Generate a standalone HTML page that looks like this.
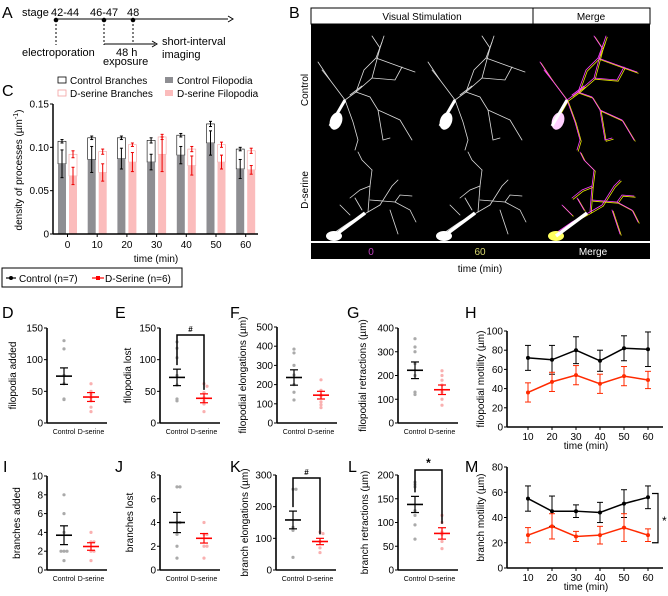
<!DOCTYPE html>
<html><head><meta charset="utf-8"><style>
html,body{margin:0;padding:0;background:#fff;}
svg{display:block;font-family:"Liberation Sans",Arial,sans-serif;}
</style></head><body>
<svg id="fig" width="668" height="596" viewBox="0 0 668 596" xmlns="http://www.w3.org/2000/svg">
<g font-size="11">
<text x="2" y="18" font-size="16">A</text>
<text x="22" y="16">stage</text>
<text x="51" y="16">42-44</text>
<text x="90" y="16">46-47</text>
<text x="127" y="16">48</text>
<line x1="56" y1="19" x2="228" y2="19" stroke="#000" stroke-width="1"/>
<path d="M228,16 L233,19 L228,22" fill="none" stroke="#000"/>
<circle cx="56" cy="20" r="2.3" fill="#000"/><circle cx="104" cy="20" r="2.3" fill="#000"/><circle cx="133" cy="20" r="2.3" fill="#000"/>
<line x1="56" y1="20" x2="56" y2="45" stroke="#000" stroke-dasharray="2,2"/>
<line x1="104" y1="20" x2="104" y2="45" stroke="#000" stroke-dasharray="2,2"/>
<line x1="133" y1="20" x2="133" y2="44" stroke="#000" stroke-dasharray="2,2"/>
<line x1="104" y1="44" x2="155" y2="44" stroke="#000"/>
<path d="M152,41 L157,44 L152,47" fill="none" stroke="#000"/>
<text x="22" y="56">electroporation</text>
<text x="116" y="56">48 h</text>
<text x="103" y="65">exposure</text>
<text x="162" y="45">short-interval</text>
<text x="162" y="58">imaging</text>
</g>
<g>
<text x="289" y="18" font-size="16">B</text>
<rect x="311" y="8" width="339" height="16" fill="#fff" stroke="#000"/>
<line x1="533" y1="8" x2="533" y2="24" stroke="#000"/>
<text x="422" y="20" font-size="10" text-anchor="middle">Visual Stimulation</text>
<text x="591" y="20" font-size="10" text-anchor="middle">Merge</text>
<rect x="311" y="24" width="339" height="217" fill="#000"/>
<g id="neurons"></g>
<rect x="311" y="243" width="339" height="16" fill="#000"/>
<text x="371" y="255" font-size="10" fill="#c040c0" text-anchor="middle">0</text>
<text x="480" y="255" font-size="10" fill="#d8d870" text-anchor="middle">60</text>
<text x="593" y="255" font-size="10" fill="#fff" text-anchor="middle">Merge</text>
<text x="480" y="272" font-size="10" text-anchor="middle">time (min)</text>
<text transform="translate(308,90) rotate(-90)" font-size="10" text-anchor="middle">Control</text>
<text transform="translate(308,190) rotate(-90)" font-size="10" text-anchor="middle">D-serine</text>
</g>
<g id="charts"></g>
</svg>
<script>
const cTimes = [0,10,20,30,40,50,60];
const cCtrlBranchTotal = [0.107,0.111,0.111,0.108,0.114,0.127,0.098];
const cCtrlBranchErr = [0.002,0.002,0.002,0.003,0.002,0.003,0.002];
const cCtrlFilo = [0.081,0.086,0.087,0.083,0.091,0.105,0.075];
const cCtrlFiloErr = [0.016,0.015,0.012,0.009,0.010,0.014,0.011];
const cDserBranchTotal = [0.092,0.095,0.103,0.112,0.098,0.103,0.096];
const cDserBranchErr = [0.004,0.003,0.002,0.003,0.003,0.003,0.003];
const cDserFilo = [0.067,0.071,0.083,0.092,0.079,0.083,0.074];
const cDserFiloErr = [0.010,0.010,0.011,0.020,0.011,0.008,0.005];
const cYTicks = [0,0.05,0.10,0.15];
const cYTickLabels = ["0","0.05","0.10","0.15"];
const dCtrl = [130,117,75,62,38,37]; const dDser = [62,50,45,40,35,25,18];
const dMean = [74,41]; const dErr = [13,7];
const eCtrl = [128,118,103,75,60,38,35]; const eDser = [62,58,48,40,35,30,18];
const eMean = [72,39]; const eErr = [13,7];
const fCtrl = [385,365,300,250,200,160,120]; const fDser = [225,170,145,140,110,95,80];
const fMean = [237,145]; const fErr = [40,20];
const gCtrl = [355,320,300,250,200,130,120]; const gDser = [220,200,180,160,130,100,75];
const gMean = [222,140]; const gErr = [35,20];
const iCtrl = [8,6,2,2,2,1,4]; const iDser = [4,3,3,2,2,1];
const iMean = [3.7,2.5]; const iErr = [1.0,0.4];
const jCtrl = [7,7,4,4,3,2,1]; const jDser = [4,3,3,2,2,1];
const jMean = [4,2.67]; const jErr = [0.85,0.4];
const kCtrl = [255,255,135,125,40]; const kDser = [120,115,90,70,55];
const kMean = [158,90]; const kErr = [28,10];
const lCtrl = [185,180,175,125,115,95,65]; const lDser = [115,100,80,75,60,45];
const lMean = [138,77]; const lErr = [17,12];
const lineTimes = [10,20,30,40,50,60];
const hCtrl = [72,70,80,69,82,81]; const hCtrlErr = [13,15,14,11,13,18];
const hDser = [36,47,54,45,53,49]; const hDserErr = [10,10,10,10,10,9];
const mCtrl = [55,45,45,44,51,56]; const mCtrlErr = [10,12,5,8,11,9];
const mDser = [26,33,25,26,32,26]; const mDserErr = [6,10,4,7,11,5];

const NS="http://www.w3.org/2000/svg";
const root=document.getElementById('charts');
function mk(tag,attrs,parent,text){const e=document.createElementNS(NS,tag);for(const k in attrs)e.setAttribute(k,attrs[k]);if(text!==undefined)e.textContent=text;(parent||root).appendChild(e);return e;}
function line(p,x1,y1,x2,y2,c,w){return mk('line',{x1,y1,x2,y2,stroke:c||'#000','stroke-width':w||1},p);}

(function(){
  const g=mk('g',{});
  
  
  const x0=53,yb=234,yt=104,ymax=0.15;
  const y=v=>yb-(v/ymax)*(yb-yt);
  const gx=t=>67.5+t*2.97;
  const lbl=mk('text',{x:2,y:96,'font-size':16},g,'C');
  
  
  cTimes.forEach((t,i)=>{
    const cx=gx(t);
    const b1=mk('rect',{x:cx-9.5,y:y(cCtrlBranchTotal[i]),width:8,height:y(cCtrlFilo[i])-y(cCtrlBranchTotal[i]),fill:'#fff',stroke:'#000','stroke-width':0.6},g);
    
    
    const b2=mk('rect',{x:cx-9.5,y:y(cCtrlFilo[i]),width:8,height:yb-y(cCtrlFilo[i]),fill:'#8e8e92'},g);
    
    
    const b3=mk('rect',{x:cx+1.5,y:y(cDserBranchTotal[i]),width:8,height:y(cDserFilo[i])-y(cDserBranchTotal[i]),fill:'#fff',stroke:'#f4a0a0','stroke-width':0.6},g);
    
    
    const b4=mk('rect',{x:cx+1.5,y:y(cDserFilo[i]),width:8,height:yb-y(cDserFilo[i]),fill:'#fbbcbc'},g);
    
    
    const eb=(xx,v,e,c)=>{line(g,xx,y(v-e),xx,y(v+e),c,1);line(g,xx-1.5,y(v-e),xx+1.5,y(v-e),c,1);line(g,xx-1.5,y(v+e),xx+1.5,y(v+e),c,1);};
    eb(cx-5.5,cCtrlBranchTotal[i],cCtrlBranchErr[i],'#000');
    eb(cx-5.5,cCtrlFilo[i],cCtrlFiloErr[i],'#000');
    eb(cx+5.5,cDserBranchTotal[i],cDserBranchErr[i],'#e00');
    eb(cx+5.5,cDserFilo[i],cDserFiloErr[i],'#e00');
    line(g,cx,yb,cx,yb+3);
    const tl=mk('text',{x:cx,y:yb+14,'font-size':10,'text-anchor':'middle'},g,String(t));
    
    
  });
  line(g,x0,yt,x0,yb,'#000',1.5);
  line(g,x0,yb,258,yb,'#000',1.5);
  cYTicks.forEach((v,i)=>{line(g,x0-3,y(v),x0,y(v));
    const t=mk('text',{x:x0-4,y:y(v)+3.5,'font-size':10,'text-anchor':'end'},g,cYTickLabels[i]);
    
    });
  const xt=mk('text',{x:156,y:262,'font-size':10,'text-anchor':'middle'},g,'time (min)');
  
  
  const yt2=mk('text',{transform:'translate(22,170) rotate(-90)','font-size':10,'text-anchor':'middle'},g,'density of processes (µm');
  
  
  mk('tspan',{'font-size':7,dy:-4},yt2,'-1');
  mk('tspan',{dy:4},yt2,')');
  const leg=[[58,84,'#fff','#000','Control Branches'],[58,97,'#fff','#f4a0a0','D-serine Branches'],[165,84,'#8e8e92','none','Control Filopodia'],[165,97,'#fbbcbc','none','D-serine Filopodia']];
  leg.forEach(l=>{const r=mk('rect',{x:l[0],y:l[1]-7,width:8,height:6,fill:l[2],stroke:l[3],'stroke-width':0.8},g);
    
    
    const t=mk('text',{x:l[0]+12,y:l[1],'font-size':10},g,l[4]);
    
    });
})();

(function(){
  const g=mk('g',{});
  
  
  mk('rect',{x:2,y:268,width:180,height:19,fill:'#fff',stroke:'#000','stroke-width':1},g);
  line(g,6,278,16,278,'#000',1.2);mk('circle',{cx:11,cy:278,r:2,fill:'#000'},g);
  mk('text',{x:19,y:282,'font-size':10},g,'Control (n=7)');
  line(g,92,278,104,278,'#f00',1.2);mk('rect',{x:96,y:276,width:4,height:4,fill:'#f00'},g);
  mk('text',{x:105,y:282,'font-size':10},g,'D-Serine (n=6)');
})();

function scatter(cfg){
  const g=mk('g',{});
  
  
  const {ax,yb,yt,max,ticks,ctrl,dser,mean,err}=cfg;
  const y=v=>yb-(v/max)*(yb-yt);
  const xc=ax+17,xd=ax+44;
  const L=mk('text',{x:cfg.lx,y:cfg.ly,'font-size':16},g,cfg.letter);
  
  
  line(g,ax,yt,ax,yb,'#000',1.6);line(g,ax,yb,ax+60,yb,'#000',1.6);
  ticks.forEach(v=>{line(g,ax-3,y(v),ax,y(v));
    const t=mk('text',{x:ax-4,y:y(v)+3.5,'font-size':10,'text-anchor':'end'},g,String(v));
    
    });
  const t1=mk('text',{x:xc,y:yb+11,'font-size':7,'text-anchor':'middle'},g,'Control');
  
  
  const t2=mk('text',{x:xd,y:yb+11,'font-size':7,'text-anchor':'middle'},g,'D-serine');
  
  
  const yl=mk('text',{transform:`translate(${cfg.tx},${(yt+yb)/2}) rotate(-90)`,'font-size':10,'text-anchor':'middle'},g,cfg.title);
  
  
  const pts=(arr,x0,col)=>{const seen={};arr.forEach(v=>{const k=Math.round(v/max*30);seen[k]=(seen[k]||0)+1;const off=seen[k]>1?((seen[k]%2)?-1:1)*3*Math.ceil((seen[k]-1)/2):0;
    const c=mk('circle',{cx:x0+off,cy:y(v),r:1.6,fill:col},g);
    
    });};
  pts(ctrl,xc,'#aaaaaa');pts(dser,xd,'#f9b0b0');
  const ms=(x0,m,e,col)=>{line(g,x0-8,y(m),x0+8,y(m),col,1.6);line(g,x0,y(m-e),x0,y(m+e),col,1.2);line(g,x0-4,y(m-e),x0+4,y(m-e),col,1.2);line(g,x0-4,y(m+e),x0+4,y(m+e),col,1.2);};
  ms(xc,mean[0],err[0],'#000');ms(xd,mean[1],err[1],'#f00');
  if(cfg.sig){const by=cfg.sigY;
    mk('path',{d:`M${xc},${y(mean[0]+err[0])-4} L${xc},${by} L${xd},${by} L${xd},${y(mean[1]+err[1])-4}`,fill:'none',stroke:'#000','stroke-width':1.5},g);
    mk('text',{x:(xc+xd)/2,y:by-3,'font-size':cfg.sig==='*'?12:8,'text-anchor':'middle','font-weight':'bold'},g,cfg.sig);}
}
scatter({letter:'D',lx:2,ly:318,ax:47,yb:423,yt:328,max:150,ticks:[0,50,100,150],ctrl:dCtrl,dser:dDser,mean:dMean,err:dErr,tx:16,title:'filopodia added'});
scatter({letter:'E',lx:115,ly:318,ax:160,yb:423,yt:328,max:150,ticks:[0,50,100,150],ctrl:eCtrl,dser:eDser,mean:eMean,err:eErr,tx:131,title:'filopodia lost',sig:'#',sigY:335});
scatter({letter:'F',lx:230,ly:318,ax:277,yb:423,yt:327,max:500,ticks:[0,100,200,300,400,500],ctrl:fCtrl,dser:fDser,mean:fMean,err:fErr,tx:246,title:'filopodial elongations (µm)'});
scatter({letter:'G',lx:347,ly:318,ax:398,yb:423,yt:328,max:400,ticks:[0,100,200,300,400],ctrl:gCtrl,dser:gDser,mean:gMean,err:gErr,tx:366,title:'filopodial retractions (µm)'});
scatter({letter:'I',lx:3,ly:472,ax:47,yb:570,yt:476,max:10,ticks:[0,2,4,6,8,10],ctrl:iCtrl,dser:iDser,mean:iMean,err:iErr,tx:20,title:'branches added'});
scatter({letter:'J',lx:115,ly:472,ax:160,yb:570,yt:475,max:8,ticks:[0,2,4,6,8],ctrl:jCtrl,dser:jDser,mean:jMean,err:jErr,tx:133,title:'branches lost'});
scatter({letter:'K',lx:230,ly:472,ax:276,yb:570,yt:475,max:300,ticks:[0,100,200,300],ctrl:kCtrl,dser:kDser,mean:kMean,err:kErr,tx:248,title:'branch elongations (µm)',sig:'#',sigY:478});
scatter({letter:'L',lx:348,ly:472,ax:398,yb:570,yt:475,max:200,ticks:[0,50,100,150,200],ctrl:lCtrl,dser:lDser,mean:lMean,err:lErr,tx:368,title:'branch retractions (µm)',sig:'*',sigY:470});

function linePanel(cfg){
  const g=mk('g',{});
  
  
  const {ax,yb,yt,max,ticks}=cfg;
  const y=v=>yb-(v/max)*(yb-yt);
  const x=t=>528+(t-10)*2.4;
  const L=mk('text',{x:465,y:cfg.ly,'font-size':16},g,cfg.letter);
  
  
  line(g,ax,yt,ax,yb,'#000',1.6);line(g,ax,yb,663,yb,'#000',1.6);
  ticks.forEach(v=>{line(g,ax-3,y(v),ax,y(v));
    const t=mk('text',{x:ax-4,y:y(v)+3.5,'font-size':10,'text-anchor':'end'},g,String(v));
    
    });
  lineTimes.forEach(t=>{line(g,x(t),yb,x(t),yb+3);
    const tl=mk('text',{x:x(t),y:yb+13,'font-size':10,'text-anchor':'middle'},g,String(t));
    
    });
  const xt=mk('text',{x:586,y:yb+22,'font-size':10,'text-anchor':'middle'},g,'time (min)');
  
  
  const yl=mk('text',{transform:`translate(484,${(yt+yb)/2}) rotate(-90)`,'font-size':10,'text-anchor':'middle'},g,cfg.title);
  
  
  const series=(vals,errs,col,nm)=>{
    const p=mk('polyline',{points:vals.map((v,i)=>x(lineTimes[i])+','+y(v)).join(' '),fill:'none',stroke:col,'stroke-width':1.5},g);
    
    
    vals.forEach((v,i)=>{const xx=x(lineTimes[i]);
      line(g,xx,y(v-errs[i]),xx,y(v+errs[i]),col,1);
      line(g,xx-3,y(v-errs[i]),xx+3,y(v-errs[i]),col,1);
      line(g,xx-3,y(v+errs[i]),xx+3,y(v+errs[i]),col,1);
      const c=mk('circle',{cx:xx,cy:y(v),r:2,fill:col},g);
      
      });
  };
  series(cfg.c,cfg.ce,'#000','control');
  series(cfg.d,cfg.de,'#ff2a00','dserine');
  if(cfg.sig){mk('path',{d:`M652,${y(40+19)} L658,${y(40+19)} L658,${y(20)} L652,${y(20)}`,fill:'none',stroke:'#000','stroke-width':1.2},g);
    mk('text',{x:662,y:y(38)+5,'font-size':12},g,'*');}
}
linePanel({letter:'H',ly:318,ax:507,yb:427,yt:331,max:100,ticks:[0,20,40,60,80,100],c:hCtrl,ce:hCtrlErr,d:hDser,de:hDserErr,title:'filopodial motility (µm)'});
linePanel({letter:'M',ly:472,ax:507,yb:568,yt:467,max:80,ticks:[0,20,40,60,80],c:mCtrl,ce:mCtrlErr,d:mDser,de:mDserErr,title:'branch motility (µm)',sig:true});

(function(){
  const g=document.getElementById('neurons');
  const ctrlPaths=["M330,126 L345,100 L356,92 L372,78 L380,48 L384,36","M356,92 L370,97 L378,110 L383,140 L390,138","M345,100 L330,80 L318,62","M330,80 L322,70","M356,92 L364,70 L376,58 L382,42","M372,78 L395,80 L402,67","M345,100 L353,122 L358,140 L355,150","M378,110 L400,120 L412,140","M376,58 L398,66 L415,72","M380,48 L372,36","M350,95 L362,86"];
  const dserPaths=["M328,237 L350,222 L368,212 L380,205","M368,212 L370,186 L372,170","M370,186 L360,190 L350,198","M370,200 L395,202 L410,210 L416,222","M380,205 L392,186 L398,180","M395,202 L400,195 L412,196","M372,170 L362,160 L358,152","M350,215 L340,205","M390,210 L395,225 L398,234","M362,210 L355,198"];
  [0,110,222].forEach((dx,k)=>{
    const grp=document.createElementNS(NS,'g');
    grp.setAttribute('transform',`translate(${dx},0)`);
    
    
    g.appendChild(grp);
    const draw=(arr,col,w,off)=>arr.forEach(d=>mk('path',{d,fill:'none',stroke:col,'stroke-width':w,'stroke-linecap':'round',transform:`translate(${off},${off})`},grp));
    if(k===2){draw(ctrlPaths,'#e8e800',0.8,1.2);draw(dserPaths,'#e8e800',0.8,1.2);draw(ctrlPaths,'#ff40ff',0.8,0);draw(dserPaths,'#ff40ff',0.8,0);}
    else{draw(ctrlPaths,'#ddd',0.8,0);draw(dserPaths,'#ddd',0.8,0);}
    mk('ellipse',{cx:336,cy:121,rx:6,ry:9,fill:k===2?'#ffd0ff':'#fff',transform:'rotate(20 336 121)'},grp);
    mk('path',{d:'M330,126 L345,100',stroke:'#fff','stroke-width':3,fill:'none'},grp);
    mk('ellipse',{cx:334,cy:236,rx:8,ry:5,fill:k===2?'#ffff60':'#fff'},grp);
    mk('path',{d:'M334,236 L365,213',stroke:'#fff','stroke-width':3.5,fill:'none'},grp);
  });
})();
</script>
</body></html>
